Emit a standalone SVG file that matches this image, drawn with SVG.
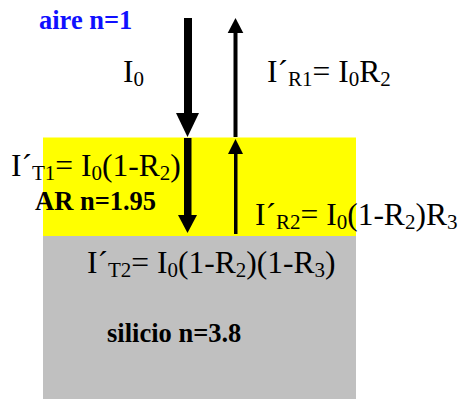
<svg xmlns="http://www.w3.org/2000/svg" width="460" height="399" viewBox="0 0 460 399">
<style>
text{font-family:'Liberation Serif','Times New Roman',serif}
.eq{font-size:31.5px;fill:#000}
.sub{font-size:21px}
.lbl{font-size:26.5px;font-weight:bold;fill:#000}
.blue{fill:#1010ff}
.arr{fill:#000}
</style>
<rect width="460" height="399" fill="#fff"/>
<g id="layer-ar"><rect x="43" y="137.5" width="313" height="98.5" fill="#ffff00"/></g>
<g id="layer-si"><rect x="43" y="236" width="313" height="163" fill="#c0c0c0"/></g>
<g id="connectors" class="arr">
<rect x="184" y="18" width="8" height="96"/>
<polygon points="176,113 199,113 187.5,137"/>
<rect x="233.5" y="32" width="4" height="105"/>
<polygon points="227.7,33 243.3,33 235.5,18"/>
<rect x="184" y="138" width="7.5" height="78"/>
<polygon points="178,215 197,215 187.5,233"/>
<rect x="234" y="153" width="3.5" height="81"/>
<polygon points="228,154 243,154 235.5,139"/>
</g>
<g id="label-aire"><text class="lbl blue" x="39" y="29">aire n=1</text></g>
<g id="label-I0"><text class="eq" x="123" y="82">I<tspan class="sub" dy="4">0</tspan></text></g>
<g id="label-R1"><text class="eq" x="267" y="82">I´<tspan class="sub" dy="4">R1</tspan><tspan dy="-4">= I</tspan><tspan class="sub" dy="4">0</tspan><tspan dy="-4">R</tspan><tspan class="sub" dy="4">2</tspan></text></g>
<g id="label-T1"><text class="eq" x="11" y="176">I´<tspan class="sub" dy="4">T1</tspan><tspan dy="-4">= I</tspan><tspan class="sub" dy="4">0</tspan><tspan dy="-4">(1-R</tspan><tspan class="sub" dy="4">2</tspan><tspan dy="-4">)</tspan></text></g>
<g id="label-ar"><text class="lbl" x="35" y="210">AR n=1.95</text></g>
<g id="label-R2"><text class="eq" x="255" y="225">I´<tspan class="sub" dy="4">R2</tspan><tspan dy="-4">= I</tspan><tspan class="sub" dy="4">0</tspan><tspan dy="-4">(1-R</tspan><tspan class="sub" dy="4">2</tspan><tspan dy="-4">)R</tspan><tspan class="sub" dy="4">3</tspan></text></g>
<g id="label-T2"><text class="eq" x="87" y="273">I´<tspan class="sub" dy="4">T2</tspan><tspan dy="-4">= I</tspan><tspan class="sub" dy="4">0</tspan><tspan dy="-4">(1-R</tspan><tspan class="sub" dy="4">2</tspan><tspan dy="-4">)(1-R</tspan><tspan class="sub" dy="4">3</tspan><tspan dy="-4">)</tspan></text></g>
<g id="label-si"><text class="lbl" x="107" y="342">silicio n=3.8</text></g>
</svg>
